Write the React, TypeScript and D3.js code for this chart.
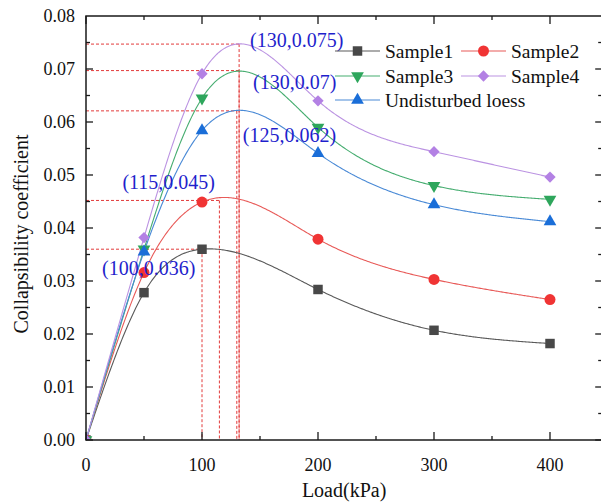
import React, { useRef, useEffect } from 'react';
import * as d3 from 'd3';

// load steps (kPa) and collapsibility coefficients
const loads = [0, 50, 100, 200, 300, 400];
const sample1 = [0, 0.0278, 0.036, 0.0284, 0.0207, 0.0182];
const sample2 = [0, 0.0316, 0.0449, 0.0379, 0.0303, 0.0265];
const sample3 = [0, 0.036, 0.0645, 0.059, 0.048, 0.0454];
const sample4 = [0, 0.0382, 0.0691, 0.064, 0.0544, 0.0496];
const undisturbed = [0, 0.0355, 0.0584, 0.0541, 0.0444, 0.0412];

const seriesNames = ['Sample1', 'Sample2', 'Sample3', 'Sample4', 'Undisturbed loess'];

// peak annotations (same order as the series)
const peakLabels = ['(100,0.036)', '(115,0.045)', '(130,0.07)', '(130,0.075)', '(125,0.062)'];
const peakLoads = [100, 115, 132, 132, 130];
const peakValues = [0.036, 0.0452, 0.0697, 0.0747, 0.0621];

const xTicks = [0, 100, 200, 300, 400];
const yTicks = [0, 0.01, 0.02, 0.03, 0.04, 0.05, 0.06, 0.07, 0.08];

// natural cubic spline through the points, as a function of x
function naturalSpline(xs: number[], ys: number[]) {
    const n = xs.length;
    const h = d3.range(n - 1).map(i => xs[i + 1] - xs[i]);
    const m = n - 2;
    const a: number[] = [], b: number[] = [], c: number[] = [], r: number[] = [];
    for (let i = 1; i < n - 1; i++) {
        a.push(h[i - 1]);
        b.push(2 * (h[i - 1] + h[i]));
        c.push(h[i]);
        r.push(6 * ((ys[i + 1] - ys[i]) / h[i] - (ys[i] - ys[i - 1]) / h[i - 1]));
    }
    for (let i = 1; i < m; i++) {
        const w = a[i] / b[i - 1];
        b[i] -= w * c[i - 1];
        r[i] -= w * r[i - 1];
    }
    const M = new Array(n).fill(0);
    for (let i = m - 1; i >= 0; i--) {
        M[i + 1] = (r[i] - (i < m - 1 ? c[i] * M[i + 2] : 0)) / b[i];
    }
    return (x: number) => {
        const i = Math.min(n - 2, Math.max(0, d3.bisectRight(xs, x) - 1));
        const hi = h[i];
        const t1 = xs[i + 1] - x, t0 = x - xs[i];
        return M[i] * t1 ** 3 / (6 * hi) + M[i + 1] * t0 ** 3 / (6 * hi)
            + (ys[i] / hi - M[i] * hi / 6) * t1 + (ys[i + 1] / hi - M[i + 1] * hi / 6) * t0;
    };
}

const App = () => {
    const svgRef = useRef(null);

    useEffect(() => {
        const svg = d3.select(svgRef.current);
        svg.selectAll("*").remove();

        const width = 601;
        const height = 504;
        const left = 86, top = 16, bottom = 440;
        const font = '"Liberation Serif", "Times New Roman", serif';

        const x = d3.scaleLinear().domain([0, 445]).range([left, left + 445 * 1.16]);
        const y = d3.scaleLinear().domain([0, 0.08]).range([bottom, top]);
        const right = x(445);

        const series = [sample1, sample2, sample3, sample4, undisturbed];
        const markerColors = ['#484848', '#f03434', '#2ea65c', '#b381e4', '#1a6ed8'];
        const lineColors = ['#5a5a5a', '#e85a58', '#46ad70', '#bb93e2', '#4a8ad6'];
        const symbols = [
            { type: d3.symbolSquare, size: 90, rot: 0 },
            { type: d3.symbolCircle, size: 95, rot: 0 },
            { type: d3.symbolTriangle, size: 70, rot: 180 },
            { type: d3.symbolSquare, size: 64, rot: 45 },
            { type: d3.symbolTriangle, size: 70, rot: 0 },
        ];
        const drawOrder = [0, 1, 2, 4, 3];

        svg.append("defs").append("clipPath").attr("id", "plot-clip")
            .append("rect").attr("x", left).attr("y", top)
            .attr("width", right - left).attr("height", bottom - top);

        // dashed peak guides
        const guides = svg.append("g")
            .attr("stroke", "#e23a3a").attr("stroke-width", 1)
            .attr("stroke-dasharray", "3,2").attr("fill", "none");
        peakLoads.forEach((p, i) => {
            guides.append("line")
                .attr("x1", left).attr("x2", x(p))
                .attr("y1", y(peakValues[i])).attr("y2", y(peakValues[i]));
            guides.append("line")
                .attr("x1", x(p)).attr("x2", x(p))
                .attr("y1", y(peakValues[i])).attr("y2", bottom);
        });

        // spline curves
        const line = d3.line<number>().x(d => x(d[0])).y(d => y(d[1]));
        drawOrder.forEach(i => {
            const f = naturalSpline(loads, series[i]);
            const pts = d3.range(0, 400.5, 1).map(v => [v, f(v)]);
            svg.append("path")
                .attr("d", line(pts as any))
                .attr("fill", "none")
                .attr("stroke", lineColors[i])
                .attr("stroke-width", 1.1);
        });

        // markers
        const markers = svg.append("g").attr("clip-path", "url(#plot-clip)");
        drawOrder.forEach(i => {
            const s = symbols[i];
            markers.selectAll(null)
                .data(loads.map((l, k) => [l, series[i][k]]))
                .join("path")
                .attr("d", d3.symbol().type(s.type).size(s.size)())
                .attr("transform", d => `translate(${x(d[0])},${y(d[1])}) rotate(${s.rot})`)
                .attr("fill", markerColors[i]);
        });

        // frame and ticks
        const axisColor = "#1a1a1a";
        svg.append("rect")
            .attr("x", left).attr("y", top)
            .attr("width", right - left).attr("height", bottom - top)
            .attr("fill", "none").attr("stroke", axisColor).attr("stroke-width", 1.5);

        const ticks = svg.append("g").attr("stroke", axisColor).attr("stroke-width", 1.3);
        d3.range(0, 445, 50).forEach(v => {
            const len = v % 100 === 0 ? 8 : 4;
            ticks.append("line").attr("x1", x(v)).attr("x2", x(v)).attr("y1", bottom).attr("y2", bottom - len);
            ticks.append("line").attr("x1", x(v)).attr("x2", x(v)).attr("y1", top).attr("y2", top + len);
        });
        d3.range(0, 16).forEach(k => {
            const v = k * 0.005;
            const len = k % 2 === 0 ? 7 : 4;
            ticks.append("line").attr("x1", left).attr("x2", left + len).attr("y1", y(v)).attr("y2", y(v));
            ticks.append("line").attr("x1", right).attr("x2", right - len).attr("y1", y(v)).attr("y2", y(v));
        });

        // tick labels
        svg.append("g").selectAll("text")
            .data(xTicks).join("text")
            .attr("x", d => x(d)).attr("y", bottom + 31)
            .attr("text-anchor", "middle")
            .attr("font-family", font).attr("font-size", "18px").attr("fill", "#111")
            .text(d => d);
        svg.append("g").selectAll("text")
            .data(yTicks).join("text")
            .attr("x", left - 11).attr("y", d => y(d) + 6)
            .attr("text-anchor", "end")
            .attr("font-family", font).attr("font-size", "18px").attr("fill", "#111")
            .text(d => d.toFixed(2));

        // axis titles
        svg.append("text")
            .attr("x", (left + right) / 2).attr("y", 497)
            .attr("text-anchor", "middle")
            .attr("font-family", font).attr("font-size", "20px").attr("fill", "#111")
            .text("Load(kPa)");
        svg.append("text")
            .attr("transform", `translate(28, 234) rotate(-90)`)
            .attr("text-anchor", "middle")
            .attr("font-family", font).attr("font-size", "20px").attr("fill", "#111")
            .text("Collapsibility coefficient");

        // peak labels (offsets from each peak, in pixels)
        const labelOffsets = [[-100, 26], [-97, -11], [14, 18], [11, 3], [6, 31]];
        peakLabels.forEach((t, i) => {
            svg.append("text")
                .attr("x", x(peakLoads[i]) + labelOffsets[i][0])
                .attr("y", y(peakValues[i]) + labelOffsets[i][1])
                .attr("font-family", font).attr("font-size", "20px").attr("fill", "#1f1fcc")
                .text(t);
        });

        // legend
        const legendPos = [[335, 51], [461, 51], [335, 76], [461, 76], [335, 100]];
        seriesNames.forEach((name, i) => {
            const [lx, ly] = legendPos[i];
            const s = symbols[i];
            svg.append("line")
                .attr("x1", lx).attr("x2", lx + 45).attr("y1", ly).attr("y2", ly)
                .attr("stroke", lineColors[i]).attr("stroke-width", 1.1);
            svg.append("path")
                .attr("d", d3.symbol().type(s.type).size(s.size)())
                .attr("transform", `translate(${lx + 22.5},${ly}) rotate(${s.rot})`)
                .attr("fill", markerColors[i]);
            svg.append("text")
                .attr("x", lx + 50).attr("y", ly + 7)
                .attr("font-family", font).attr("font-size", "19.5px").attr("fill", "#111")
                .text(name);
        });

        svg.attr("width", width).attr("height", height);
    }, []);

    return (
        <svg ref={svgRef} width={601} height={504}
            style={{ position: 'absolute', left: 0, top: 0, background: '#fff' }}></svg>
    );
};

export default App;
